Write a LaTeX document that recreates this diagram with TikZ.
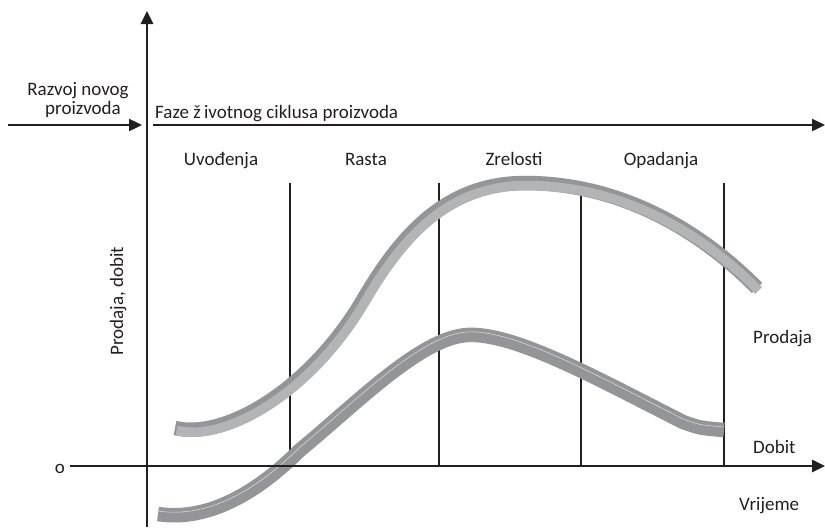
\documentclass[tikz,border=0pt]{standalone}
\usepackage{fontspec}
\setmainfont{Carlito}
\usetikzlibrary{arrows.meta}
\definecolor{axisc}{HTML}{231F20}
\definecolor{ribdark}{HTML}{939598}
\definecolor{riblight}{HTML}{B3B4B6}
\begin{document}
\begin{tikzpicture}[x=1pt,y=-1pt,
  axisline/.style={draw=axisc, line width=2.8pt, -{Triangle[length=13pt,width=12pt]}},
  sepline/.style={draw=axisc, line width=1.2pt},
  lbl/.style={font=\fontsize{19}{22}\selectfont, text=axisc, inner sep=0pt},
  ribbon/.style={line width=14.5pt, draw=ribdark, line cap=butt, line join=round},
  face/.style={line width=9.5pt, draw=riblight, line cap=butt, line join=round},
  gloss/.style={line width=0.5pt, draw=white!70!ribdark}]
\useasboundingbox (0,0) rectangle (825,530);
% axes
\coordinate (yb) at (147,527);
\coordinate (yt) at (147,11);
\coordinate (xl) at (70,466);
\coordinate (xr) at (825,466);
\coordinate (tl) at (8,125);
\coordinate (tm) at (142,125);
\coordinate (tr0) at (153,125);
\coordinate (tr) at (825,125);
% separators
\foreach \n/\x in {a/290,b/439,c/581,d/724}{
  \coordinate (s\n t) at (\x,183);
  \coordinate (s\n b) at (\x,466);
  \draw[sepline] (s\n t) -- (s\n b);
}
% curve paths
\def\prodpath{(175,428) .. controls (225,440) and (310,390) .. (363,300)
  .. controls (400,237) and (445,183) .. (525,183)
  .. controls (620,183) and (700,230) .. (757,288)}
\def\dobpath{(158,514) .. controls (210,522) and (260,490) .. (300,450)
  .. controls (355,405) and (420,338) .. (467,335)
  .. controls (514,332) and (600,380) .. (683,422)
  .. controls (700,428) .. (724,430)}
\draw[ribbon] \prodpath;
\draw[face, shift={(1.6,2.5)}] \prodpath;
\draw[ribbon] \dobpath;
\draw[gloss, shift={(0,-3)}] \dobpath;
% axes on top
\draw[axisline] (yb) -- (yt);
\draw[axisline] (xl) -- (xr);
\draw[axisline, line width=2.4pt] (tl) -- (tm);
\draw[axisline, line width=2.4pt] (tr0) -- (tr);
% labels
\node[lbl, anchor=base] (r1) at (78,95) {Razvoj novog};
\node[lbl, anchor=base] (r2) at (83,114) {proizvoda};
\node[lbl, anchor=base west] (faze) at (155,118) {Faze ž\,ivotnog ciklusa proizvoda};
\node[lbl, anchor=base] (p1) at (221,165) {Uvođenja};
\node[lbl, anchor=base] (p2) at (366,165) {Rasta};
\node[lbl, anchor=base] (p3) at (514,165) {Zrelosti};
\node[lbl, anchor=base] (p4) at (661,165) {Opadanja};
\node[lbl, anchor=base west] (lp) at (753,343) {Prodaja};
\node[lbl, anchor=base west] (ld) at (753,453) {Dobit};
\node[lbl, anchor=base west] (lv) at (739,510) {Vrijeme};
\node[lbl, anchor=base] (lo) at (60,473) {o};
\node[lbl, anchor=base, rotate=90] (ly) at (123,301) {Prodaja, dobit};
\end{tikzpicture}
\end{document}
